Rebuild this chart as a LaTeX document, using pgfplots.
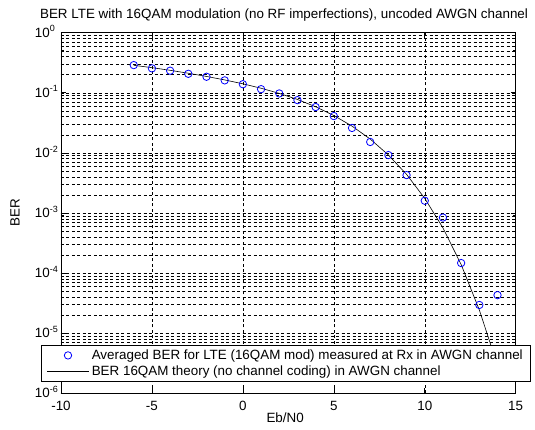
\documentclass[border=0pt]{standalone}
\usepackage{pgfplots}
\pgfplotsset{compat=1.18}
\usepackage{fontspec}
\setmainfont{Liberation Sans}
\newcommand{\expl}[1]{10\smash{\rlap{\raisebox{5.5pt}{\fontsize{9}{9}\selectfont #1}}}}
\pgfplotsset{
  marklegend/.style={legend image code/.code={\draw[mark repeat=2,mark phase=2,##1] plot coordinates {(0pt,0pt) (21pt,0pt) (42pt,0pt)};}},
  linelegend/.style={legend image code/.code={\draw[##1] (0pt,0pt) -- (42pt,0pt);}},
}
\begin{document}
\begin{tikzpicture}
\useasboundingbox (-61pt,-36.7pt) rectangle (474pt,393.3pt);
\begin{axis}[
  at={(0pt,0pt)}, anchor=south west,
  scale only axis, width=454.7pt, height=360.6pt,
  font=\fontsize{13.4}{16}\selectfont,
  xmin=-10, xmax=15, ymode=log, ymin=1e-6, ymax=1,
  xtick={-10,-5,0,5,10,15},
  xticklabels={-10,-5,0,5,10,15},
  ytick={1e-6,1e-5,1e-4,1e-3,1e-2,1e-1,1},
  yticklabels={\expl{-6},\expl{-5},\expl{-4},\expl{-3},\expl{-2},\expl{-1},\expl{0}},
  xticklabel style={anchor=base, yshift=-17.4pt, inner sep=0pt},
  yticklabel style={anchor=east, inner sep=0pt, xshift=-11pt},
  grid=both,
  major grid style={black, line width=0.5pt, dash pattern=on 3pt off 2.5pt},
  minor grid style={black, line width=0.5pt, dash pattern=on 3pt off 2.5pt},
  axis line style={black, line width=0.7pt},
  tick style={black, line width=0.6pt},
  tick align=inside,
  major tick length=5pt, minor tick length=3pt,
  title={BER LTE with 16QAM modulation (no RF imperfections), uncoded AWGN channel},
  title style={at={(axis description cs:0.4905,1)}, anchor=base, yshift=7.7pt, inner sep=0pt},
  xlabel={Eb/N0},
  xlabel style={at={(axis description cs:0.493,-0.0685)}, anchor=center, inner sep=0pt},
  ylabel={BER},
  ylabel style={at={(axis description cs:-0.101,0.5)}, anchor=center, inner sep=0pt},
  legend cell align=left,
  legend style={at={(axis description cs:0.4948,0.0826)}, anchor=center,
    draw=black, line width=0.6pt, fill=white, inner xsep=5pt, inner ysep=2pt,
    row sep=0pt, nodes={inner sep=2.5pt}, font=\fontsize{13.4}{16}\selectfont},
]
\addplot[only marks, mark=o, mark size=3.7pt, blue, line width=0.8pt, marklegend]
  table {
x y
-6 0.289
-5 0.255
-4 0.233
-3 0.207
-2 0.185
-1 0.161
0 0.139
1 0.115
2 0.0975
3 0.0755
4 0.058
5 0.041
6 0.026
7 0.0152
8 0.0092
9 0.00427
10 0.0016
11 0.00084
12 0.000147
13 0.0000295
14 0.0000430
};
\addlegendentry{Averaged BER for LTE (16QAM mod) measured at Rx in AWGN channel}
\addplot[black, line width=0.6pt, mark=none, linelegend]
  table {
x y
-6 0.2868
-5 0.2620
-4 0.2367
-3 0.2116
-2 0.1872
-1 0.1638
0 0.1411
1 0.1191
2 0.0978
3 0.0775
4 0.0586
5 0.0419
6 0.0279
7 0.0170
8 0.00923
9 0.00439
10 0.00175
11 0.000566
12 0.000139
13 0.0000244
14 0.0000029
};
\addlegendentry{BER 16QAM theory (no channel coding) in AWGN channel}
\end{axis}
\end{tikzpicture}
\end{document}
